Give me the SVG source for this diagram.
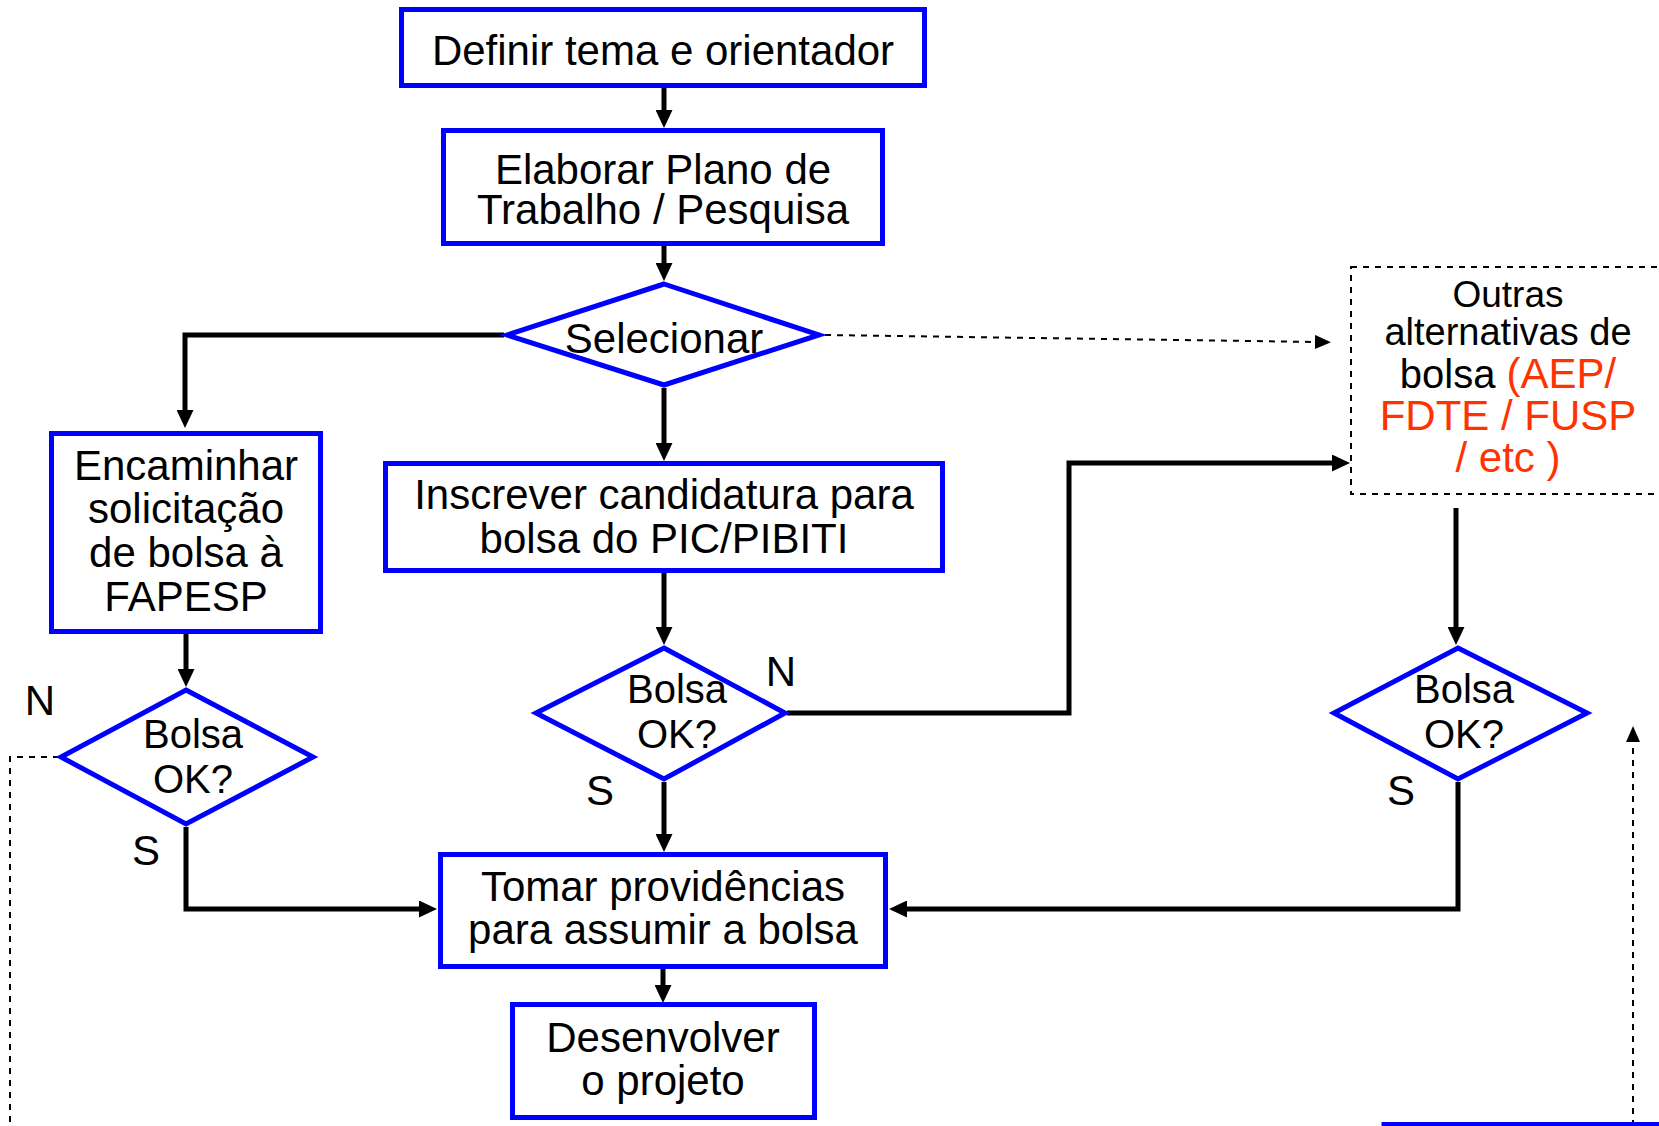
<svg xmlns="http://www.w3.org/2000/svg" width="1659" height="1126" viewBox="0 0 1659 1126">
<style>
.box{fill:#fff;stroke:#0000FF;stroke-width:5}
.t{font-family:"Liberation Sans",Arial,sans-serif;font-size:42px;fill:#000;text-anchor:middle}
.s40{font-size:40px}
.c{fill:none;stroke:#000;stroke-width:5;stroke-linejoin:miter}
.d{fill:none;stroke:#000;stroke-width:2;stroke-dasharray:6 6}
.red{fill:#FF3300}
</style>
<defs>
<marker id="ah" markerUnits="userSpaceOnUse" markerWidth="18" markerHeight="17" refX="8" refY="8.5" orient="auto">
<path d="M0,0 L18,8.5 L0,17 z" fill="#000"/>
</marker>
<marker id="ahd" markerUnits="userSpaceOnUse" markerWidth="16" markerHeight="14" refX="4" refY="7" orient="auto">
<path d="M0,0 L16,7 L0,14 z" fill="#000"/>
</marker>
</defs>
<g id="connectors">
<line class="c" x1="664" y1="88" x2="664" y2="118" marker-end="url(#ah)"/>
<line class="c" x1="664" y1="246" x2="664" y2="271" marker-end="url(#ah)"/>
<polyline class="c" points="504,335 185,335 185,418" marker-end="url(#ah)"/>
<line class="c" x1="664" y1="388" x2="664" y2="451" marker-end="url(#ah)"/>
<line class="d" x1="825" y1="335" x2="1319" y2="342" marker-end="url(#ahd)"/>
<line class="c" x1="186" y1="634" x2="186" y2="677" marker-end="url(#ah)"/>
<line class="c" x1="664" y1="573" x2="664" y2="635" marker-end="url(#ah)"/>
<polyline class="c" points="787,713 1069,713 1069,463 1340,463" marker-end="url(#ah)"/>
<line class="c" x1="1456" y1="508" x2="1456" y2="635" marker-end="url(#ah)"/>
<polyline class="c" points="186,827 186,909 427,909" marker-end="url(#ah)"/>
<line class="c" x1="664" y1="782" x2="664" y2="842" marker-end="url(#ah)"/>
<polyline class="c" points="1458,782 1458,909 899,909" marker-end="url(#ah)"/>
<line class="c" x1="663" y1="969" x2="663" y2="993" marker-end="url(#ah)"/>
<polyline class="d" points="59,757 10,757 10,1126"/>
<line class="d" x1="1633" y1="1126" x2="1633" y2="738" marker-end="url(#ahd)"/>
</g>
<g id="definir">
<rect class="box" x="401.5" y="9.5" width="523" height="76"/>
<text class="t" x="663" y="65">Definir tema e orientador</text>
</g>
<g id="elaborar">
<rect class="box" x="443.5" y="130.5" width="439" height="113"/>
<text class="t" x="663" y="184">Elaborar Plano de</text>
<text class="t" x="663" y="224">Trabalho / Pesquisa</text>
</g>
<g id="selecionar">
<polygon class="box" points="664,284 819,335 664,385 507,335"/>
<text class="t" x="664" y="353">Selecionar</text>
</g>
<g id="encaminhar">
<rect class="box" x="51.5" y="433.5" width="269" height="198"/>
<text class="t" x="186" y="480">Encaminhar</text>
<text class="t" x="186" y="523">solicitação</text>
<text class="t" x="186" y="567">de bolsa à</text>
<text class="t" x="186" y="611">FAPESP</text>
</g>
<g id="inscrever">
<rect class="box" x="385.5" y="463.5" width="557" height="107"/>
<text class="t" x="664" y="509">Inscrever candidatura para</text>
<text class="t" x="664" y="553">bolsa do PIC/PIBITI</text>
</g>
<g id="outras">
<rect class="d" x="1351" y="267" width="320" height="227"/>
<text class="t" x="1508" y="307" style="font-size:37px">Outras</text>
<text class="t" x="1508" y="345" style="font-size:38px">alternativas de</text>
<text class="t" x="1508" y="388"><tspan class="s40">bolsa </tspan><tspan class="red">(AEP/</tspan></text>
<text class="t red" x="1508" y="430">FDTE / FUSP</text>
<text class="t red" x="1508" y="472">/ etc )</text>
</g>
<g id="bolsa-fapesp">
<polygon class="box" points="186,690 313,757 186,824 61,757"/>
<text class="t s40" x="193" y="748">Bolsa</text>
<text class="t s40" x="193" y="793">OK?</text>
<text class="t" x="40" y="715">N</text>
<text class="t" x="146" y="865">S</text>
</g>
<g id="bolsa-pic">
<polygon class="box" points="664,648 785,713 664,779 536,713"/>
<text class="t s40" x="677" y="703">Bolsa</text>
<text class="t s40" x="677" y="748">OK?</text>
<text class="t" x="781" y="686">N</text>
<text class="t" x="600" y="805">S</text>
</g>
<g id="bolsa-outras">
<polygon class="box" points="1458,648 1587,713 1458,779 1334,713"/>
<text class="t s40" x="1464" y="703">Bolsa</text>
<text class="t s40" x="1464" y="748">OK?</text>
<text class="t" x="1401" y="805">S</text>
</g>
<g id="tomar">
<rect class="box" x="440.5" y="854.5" width="445" height="112"/>
<text class="t" x="663" y="901">Tomar providências</text>
<text class="t" x="663" y="944">para assumir a bolsa</text>
</g>
<g id="desenvolver">
<rect class="box" x="512.5" y="1004.5" width="302" height="113"/>
<text class="t" x="663" y="1052">Desenvolver</text>
<text class="t" x="663" y="1095">o projeto</text>
</g>
<g id="offpage">
<rect class="box" x="1384" y="1124.5" width="400" height="100"/>
</g>
</svg>
